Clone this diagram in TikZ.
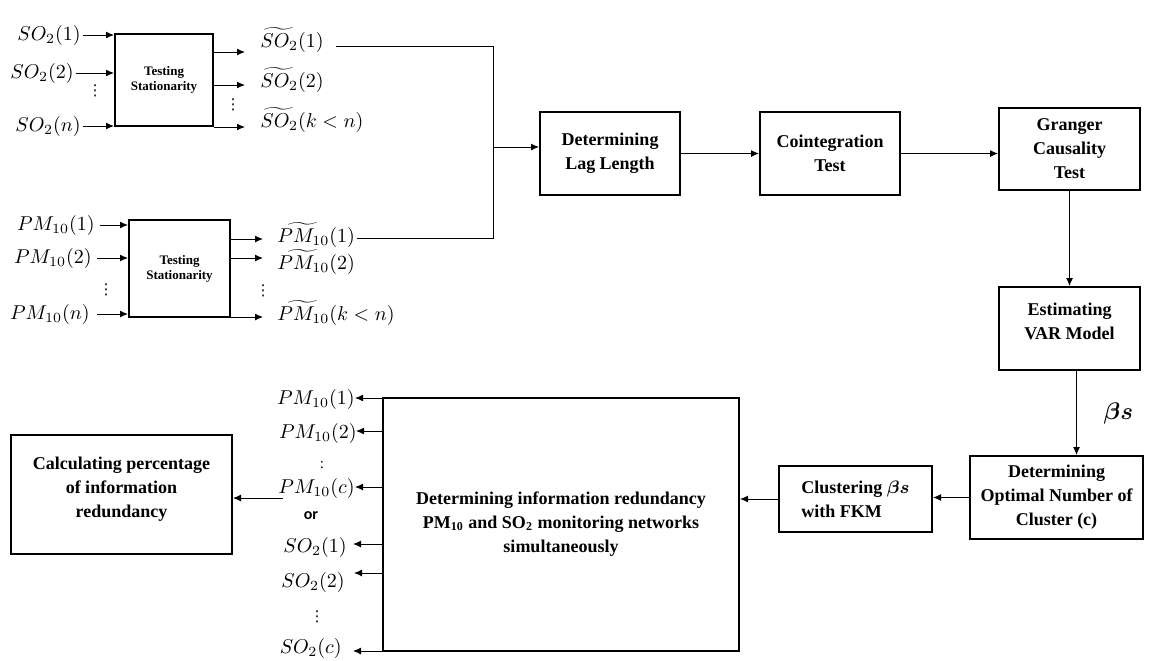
\documentclass[tikz,border=0pt]{standalone}
\usepackage{fontspec}
\usepackage{amsmath}
\setmainfont{Liberation Serif}
\newfontfamily\orfont{Carlito}
\newfontfamily\dotfont{DejaVu Sans}
\usetikzlibrary{positioning,arrows.meta}
\newcommand{\colondots}{{\dotfont ⋮}}

\begin{document}
\begin{tikzpicture}[x=0.5pt, y=-0.5pt,
    >={Latex[length=4pt,width=3.5pt]},
    stage/.style={rectangle, draw, line width=1pt, align=center, inner sep=2pt, font=\bfseries\fontsize{9}{12}\selectfont},
    station/.style={rectangle, draw, line width=1pt, align=center, font=\bfseries\fontsize{6.5}{7.5}\selectfont},
    series/.style={inner sep=1pt, font=\normalsize},
    flow/.style={->, line width=0.5pt},
    dotsym/.style={inner sep=0pt, font=\fontsize{7.5}{8}\selectfont}]

\useasboundingbox (0,0) rectangle (1150,660);

% Stationarity tests
\node[station, minimum width=49pt, minimum height=46pt] (sotest) at (164,80) {Testing\\Stationarity};
\node[station, minimum width=50.5pt, minimum height=48.5pt] (pmtest) at (179.5,268.5) {Testing\\Stationarity};

% SO2 series in
\node[series, anchor=east] (soin1) at (83,35) {$SO_2(1)$};
\node[series, anchor=east] (soin2) at (76,73) {$SO_2(2)$};
\node[dotsym] (soindots) at (95,91) {\colondots};
\node[series, anchor=east] (soinn) at (83,126) {$SO_2(n)$};

\draw[flow] (soin1.east) -- (soin1.east -| sotest.west);
\draw[flow] (soin2.east) -- (soin2.east -| sotest.west);
\draw[flow] (soinn.east) -- (soinn.east -| sotest.west);

% SO2 series out
\coordinate (soout1) at (245,52);
\coordinate (soout2) at (245,85);
\coordinate (sooutk) at (245,127);
\draw[flow] (sotest.east |- soout1) -- (soout1);
\draw[flow] (sotest.east |- soout2) -- (soout2);
\draw[flow] (sotest.east |- sooutk) -- (sooutk);

\node[series, anchor=west] (sost1) at (258,40) {$\widetilde{SO_2}(1)$};
\node[series, anchor=west] (sost2) at (258,80) {$\widetilde{SO_2}(2)$};
\node[dotsym] (sooutdots) at (233,105) {\colondots};
\node[series, anchor=west] (sostk) at (258,120) {$\widetilde{SO_2}(k<n)$};

% PM10 series in
\node[series, anchor=east] (pmin1) at (97,225) {$PM_{10}(1)$};
\node[series, anchor=east] (pmin2) at (94,258) {$PM_{10}(2)$};
\node[dotsym] (pmindots) at (106,290) {\colondots};
\node[series, anchor=east] (pminn) at (92,314) {$PM_{10}(n)$};

\draw[flow] (pmin1.east) ++(3,0) -- (pmin1.east -| pmtest.west);
\draw[flow] (pmin2.east) ++(3,0) -- (pmin2.east -| pmtest.west);
\draw[flow] (pminn.east) ++(5,0) -- (pminn.east -| pmtest.west);

% PM10 series out
\coordinate (pmout1) at (263,239);
\coordinate (pmout2) at (263,258);
\coordinate (pmoutk) at (263,317);
\draw[flow] (pmtest.east |- pmout1) -- (pmout1);
\draw[flow] (pmtest.east |- pmout2) -- (pmout2);
\draw[flow] (pmtest.east |- pmoutk) -- (pmoutk);

\node[series, anchor=west] (pmst1) at (275,235) {$\widetilde{PM_{10}}(1)$};
\node[series, anchor=west] (pmst2) at (275,262) {$\widetilde{PM_{10}}(2)$};
\node[dotsym] (pmoutdots) at (263,291) {\colondots};
\node[series, anchor=west] (pmstk) at (275,313) {$\widetilde{PM_{10}}(k<n)$};

% Main pipeline
\node[stage, minimum width=70pt, minimum height=41.5pt] (lag) at (610,153.5) {Determining\\Lag Length};
\node[stage, minimum width=70pt, minimum height=41.5pt] (coint) at (830,153.5) {Cointegration\\Test};
\node[stage, minimum width=70.5pt, minimum height=41pt] (granger) at (1069.5,149) {Granger\\Causality\\Test};
\node[stage, minimum width=70.5pt, minimum height=41.5pt] (var) at (1069.5,328.5) {Estimating\\VAR Model\\[-5pt]\mbox{}};
\node[stage, minimum width=86.5pt, minimum height=41.5pt] (optimal) at (1056.5,497.5) {Determining\\Optimal Number of\\Cluster (c)};
\node[stage, align=left, minimum width=76.5pt, minimum height=33pt] (cluster) at (855.5,499) {Clustering $\boldsymbol{\beta s}$\\with FKM};
\node[stage, minimum width=178pt, minimum height=126.5pt] (redund) at (561,524.5) {Determining information redundancy\\PM\textsubscript{10} and SO\textsubscript{2} monitoring networks\\simultaneously};
\node[stage, minimum width=110.5pt, minimum height=59.5pt] (calc) at (121.5,494.5) {Calculating percentage\\of information\\redundancy\\[-5pt]\mbox{}};

% Joining the stationary series
\coordinate (jtop) at (493,46);
\coordinate (jmid) at (493,147);
\coordinate (jbot) at (493,238);
\draw[line width=0.5pt] ([xshift=5pt]sost1.east |- jtop) -- (jtop) -- (jbot) -- (pmst1.east |- jbot);
\draw[flow] (jmid) -- (jmid -| lag.west);

\draw[flow] (lag.east) -- (lag.east -| coint.west);
\draw[flow] (coint.east) -- (coint.east -| granger.west);
\draw[flow] (granger.south) -- (var.north);
\draw[flow] ([xshift=3.5pt]var.south) -- ([xshift=3.5pt]var.south |- optimal.north)
    node[midway, right=10pt, font=\large] (betas) {$\boldsymbol{\beta s}$};
\draw[flow] (optimal.west) -- (optimal.west -| cluster.east);
\draw[flow] (cluster.west) -- (cluster.west -| redund.east);

% Redundant stations out
\coordinate (rpm1) at (355,398);
\coordinate (rpm2) at (356,431);
\coordinate (rpmc) at (355,487);
\coordinate (rso1) at (353,544);
\coordinate (rso2) at (354,573);
\coordinate (rsoc) at (353,651);
\draw[flow] (redund.west |- rpm1) -- (rpm1);
\draw[flow] (redund.west |- rpm2) -- (rpm2);
\draw[flow] (redund.west |- rpmc) -- (rpmc);
\draw[flow] (redund.west |- rso1) -- (rso1);
\draw[flow] (redund.west |- rso2) -- (rso2);
\draw[flow] (redund.west |- rsoc) -- (rsoc);

\node[series, anchor=east] (opm1) at (357,399) {$PM_{10}(1)$};
\node[series, anchor=east] (opm2) at (359,433) {$PM_{10}(2)$};
\node[dotsym] (opmdots) at (322,465) {:};
\node[series, anchor=east] (opmc) at (357,488) {$PM_{10}(c)$};
\node[inner sep=0pt, font=\orfont\bfseries\fontsize{8}{10}\selectfont] (ortext) at (311,516) {or};
\node[series, anchor=east] (oso1) at (349,547) {$SO_2(1)$};
\node[series, anchor=east] (oso2) at (347,582) {$SO_2(2)$};
\node[dotsym] (osodots) at (317,617) {\colondots};
\node[series, anchor=east] (osoc) at (344,648) {$SO_2(c)$};

\coordinate (calcin) at (283,498);
\draw[flow] (calcin) -- (calcin -| calc.east);

\end{tikzpicture}
\end{document}
